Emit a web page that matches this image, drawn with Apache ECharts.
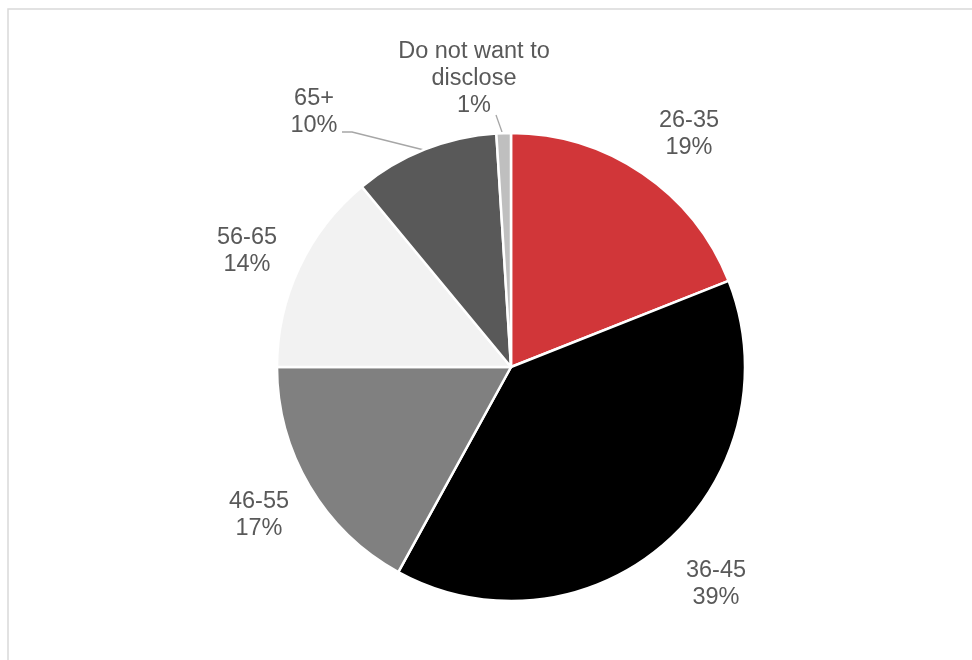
<!DOCTYPE html>
<html>
<head>
<meta charset="utf-8">
<script src="https://cdn.jsdelivr.net/npm/echarts@6/dist/echarts.min.js"></script>
<style>
html,body{margin:0;padding:0;background:#fff;}
#chart{width:972px;height:660px;}
</style>
</head>
<body>
<div id="chart"></div>
<script>
// Data
const categories = ['26-35', '36-45', '46-55', '56-65', '65+', 'Do not want to\ndisclose'];
const shares = [19, 39, 17, 14, 10, 1];

// Styles (not data)
const sliceColors = ['#D13639', '#000000', '#808080', '#F2F2F2', '#595959', '#BFBFBF'];
const labelCenters = [[689, 134], [716, 584], [259, 515], [247, 251], [314, 112], [474, 79]];
const leaderLines = {
  4: [[342, 132], [352, 132], [424, 150]],
  5: [[496, 115], [496, 115], [502, 132]]
};

const chart = echarts.init(document.getElementById('chart'));
chart.setOption({
  animation: false,
  backgroundColor: '#fff',
  graphic: [{
    type: 'rect',
    shape: { x: 8, y: 9, width: 1200, height: 1200 },
    style: { fill: 'none', stroke: '#D9D9D9', lineWidth: 1.5 },
    silent: true
  }],
  series: [{
    type: 'pie',
    center: [511, 367],
    radius: 234,
    startAngle: 90,
    clockwise: true,
    avoidLabelOverlap: false,
    emphasis: { disabled: true },
    itemStyle: { borderColor: '#ffffff', borderWidth: 2.5 },
    label: {
      show: true,
      position: 'outside',
      formatter: '{b}\n{c}%',
      fontFamily: 'Liberation Sans, Arial, sans-serif',
      fontSize: 23.5,
      lineHeight: 27,
      color: '#595959',
      align: 'center'
    },
    labelLine: {
      show: true,
      lineStyle: { color: '#A6A6A6', width: 1.3 }
    },
    labelLayout: function (params) {
      const i = params.dataIndex;
      const res = {
        x: labelCenters[i][0],
        y: labelCenters[i][1],
        align: 'center',
        verticalAlign: 'middle'
      };
      if (leaderLines[i]) res.labelLinePoints = leaderLines[i];
      return res;
    },
    data: categories.map((c, i) => ({
      name: c,
      value: shares[i],
      itemStyle: { color: sliceColors[i] },
      labelLine: { show: !!leaderLines[i] }
    }))
  }]
});
</script>
</body>
</html>
